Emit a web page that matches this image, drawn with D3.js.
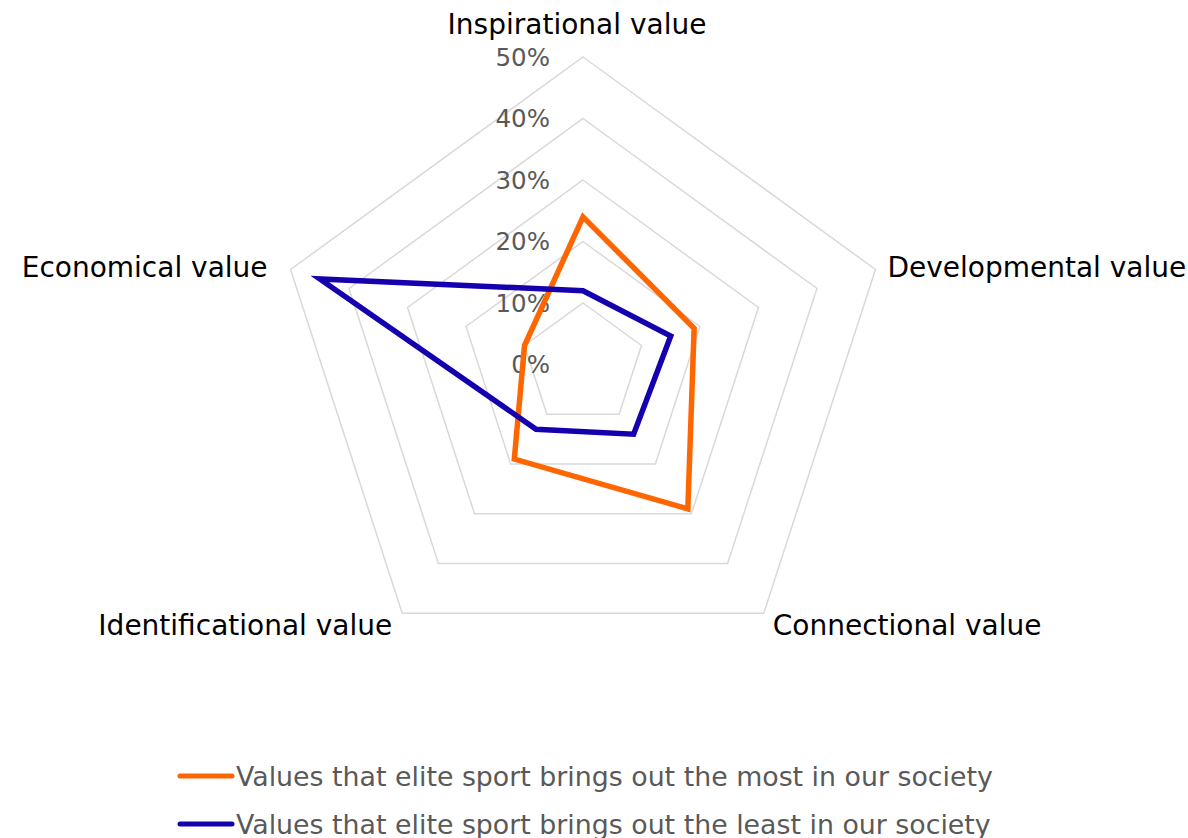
<!DOCTYPE html>
<html>
<head>
<meta charset="utf-8">
<script src="https://cdn.jsdelivr.net/npm/d3@7"></script>
<style>
  html, body { margin: 0; padding: 0; background: #fff; }
  svg { display: block; font-family: "DejaVu Sans", Verdana, sans-serif; }
</style>
</head>
<body>
<div id="chart"></div>
<script>
var axes = ["Inspirational value", "Developmental value", "Connectional value", "Identificational value", "Economical value"];
var mostValues = [0.24, 0.19, 0.29, 0.19, 0.10];
var leastValues = [0.12, 0.15, 0.14, 0.13, 0.45];
var seriesNames = ["Values that elite sport brings out the most in our society",
                   "Values that elite sport brings out the least in our society"];
var seriesColors = ["#ff6600", "#1500b0"];
var ticks = [0, 0.1, 0.2, 0.3, 0.4, 0.5];

var width = 1188, height = 838;
var cx = 583, cy = 364.5, R = 307.5;

var svg = d3.select('#chart')
  .append('svg')
    .attr('width', width)
    .attr('height', height);

var r = d3.scaleLinear().domain([0, 0.5]).range([0, R]);
var angle = d3.scaleLinear().domain([0, axes.length]).range([0, 2 * Math.PI]);

var g = svg.append('g')
  .attr('transform', 'translate(' + cx + ',' + cy + ')');

// grid rings
var ring = d3.lineRadial()
  .angle(function(d, i) { return angle(i); })
  .radius(function(d) { return r(d); })
  .curve(d3.curveLinearClosed);

g.selectAll('.grid')
  .data(ticks.slice(1)).enter()
  .append('path')
    .attr('class', 'grid')
    .attr('d', function(t) { return ring(axes.map(function() { return t; })); })
    .attr('fill', 'none')
    .attr('stroke', '#d9d9d9')
    .attr('stroke-width', 1.5);

// tick labels
g.selectAll('.tick_label')
  .data(ticks).enter()
  .append('text')
    .attr('class', 'tick_label')
    .attr('x', -33)
    .attr('y', function(t) { return -r(t); })
    .attr('dy', '0.36em')
    .attr('text-anchor', 'end')
    .attr('font-size', 24.5)
    .attr('fill', '#595959')
    .text(function(t) { return d3.format('.0%')(t); });

// series
var line = d3.lineRadial()
  .angle(function(d, i) { return angle(i); })
  .radius(function(d) { return r(d); })
  .curve(d3.curveLinearClosed);

var series = [mostValues, leastValues];
g.selectAll('.series')
  .data(series).enter()
  .append('path')
    .attr('class', 'series')
    .attr('d', line)
    .attr('fill', 'none')
    .attr('stroke', function(d, i) { return seriesColors[i]; })
    .attr('stroke-width', 5.5)
    .attr('stroke-linejoin', 'miter');

// axis labels
g.selectAll('.axis_label')
  .data(axes).enter()
  .append('text')
    .attr('class', 'axis_label')
    .attr('x', function(d, i) {
      var s = Math.sin(angle(i)), c = Math.cos(angle(i));
      if (Math.abs(s) < 0.1) return -6;
      var off = c > 0 ? (s > 0 ? 12 : -23) : (s > 0 ? 9 : -10);
      return r(0.5) * s + off;
    })
    .attr('y', function(d, i) {
      var c = Math.cos(angle(i));
      return -r(0.5) * c + (c > 0.9 ? -33 : (c > 0 ? -3 : 12));
    })
    .attr('dy', '0.36em')
    .attr('text-anchor', function(d, i) {
      var s = Math.sin(angle(i));
      return Math.abs(s) < 0.1 ? 'middle' : (s > 0 ? 'start' : 'end');
    })
    .attr('font-size', 28)
    .attr('fill', '#000')
    .text(function(d) { return d; });

// legend
var legend = svg.append('g')
  .attr('transform', 'translate(178,776)');

var item = legend.selectAll('.legend_item')
  .data(seriesNames).enter()
  .append('g')
    .attr('class', 'legend_item')
    .attr('transform', function(d, i) { return 'translate(0,' + i * 48 + ')'; });

item.append('line')
  .attr('x1', 2).attr('x2', 54)
  .attr('y1', 0).attr('y2', 0)
  .attr('stroke', function(d, i) { return seriesColors[i]; })
  .attr('stroke-width', 5)
  .attr('stroke-linecap', 'round');

item.append('text')
  .attr('x', 58)
  .attr('y', 0)
  .attr('dy', '0.36em')
  .attr('font-size', 26.8)
  .attr('fill', '#595959')
  .text(function(d) { return d; });
</script>
</body>
</html>
